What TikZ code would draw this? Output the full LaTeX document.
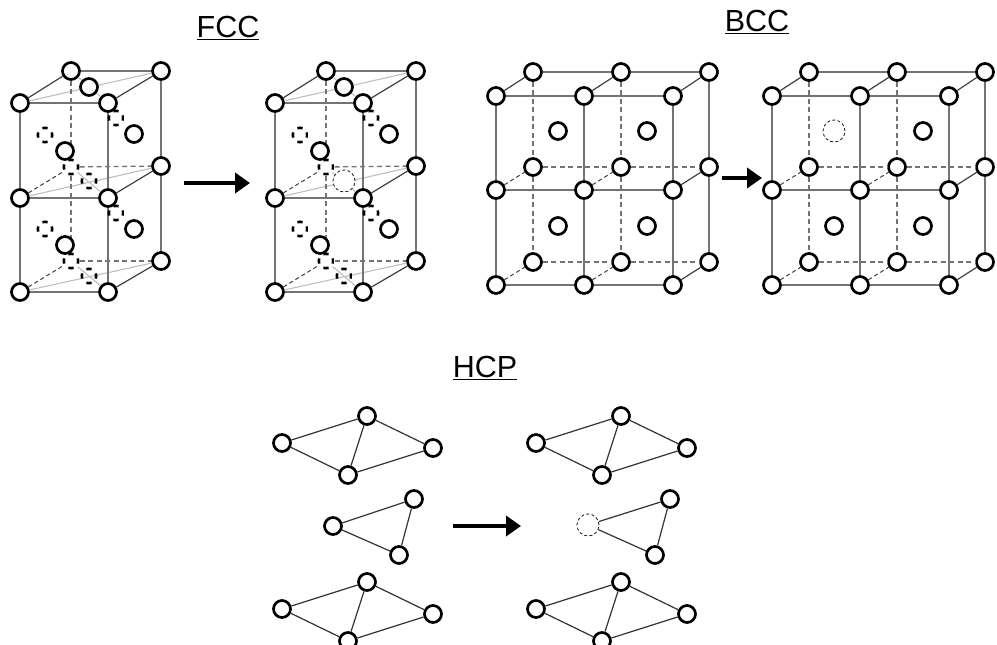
\documentclass[tikz,border=0pt]{standalone}
\usepackage{fontspec}
\setmainfont{Liberation Sans}
\usetikzlibrary{arrows.meta}
\definecolor{edgegray}{gray}{0.45}
\definecolor{lightgray2}{gray}{0.75}
\definecolor{dashgray}{gray}{0.45}
\tikzset{
  atom/.style={circle,draw=black,fill=white,line width=2.7pt,minimum size=17pt,inner sep=0pt},
  hidden/.style={circle,minimum size=17.4pt,inner sep=0pt,outer sep=0pt,
    path picture={\foreach \a in {0,90,180,270}{
      \draw[black,line width=2.6pt] (path picture bounding box.center) ++(\a-21:7.2pt) arc[start angle=\a-21,delta angle=42,radius=7.2pt];
    }}},
  vacancy/.style={circle,draw=black!90,fill=white,line width=0.8pt,minimum size=22pt,inner sep=0pt,dash pattern=on 3pt off 2.3pt},
  front/.style={draw=edgegray,line width=1.7pt},
  depth/.style={draw=black!75,line width=1.2pt},
  diag/.style={draw=lightgray2,line width=1.1pt},
  backv/.style={draw=dashgray,line width=1.3pt,dash pattern=on 5pt off 3.5pt},
  depthd/.style={draw=black!75,line width=1pt,dash pattern=on 4pt off 3pt},
  bond/.style={draw=black!80,line width=1.2pt},
  bigarrow/.style={-{Triangle[length=15pt,width=20pt]},line width=4.6pt,black},
  title/.style={font=\fontsize{30.5}{33}\selectfont,inner sep=0pt}
}
\newcommand{\fcccell}[2]{%
  \node[atom] (l1) at (20,103) {};
  \node[atom] (r1) at (108,103) {};
  \node[atom] (p1) at (71,71) {};
  \node[atom] (q1) at (161,71) {};
  \node[atom] (l2) at (20,198) {};
  \node[atom] (r2) at (108,198) {};
  \node[hidden] (p2) at (71,167) {};
  \node[atom] (q2) at (161,166) {};
  \node[atom] (l3) at (20,292) {};
  \node[atom] (r3) at (108,292) {};
  \node[hidden] (p3) at (71,261) {};
  \node[atom] (q3) at (161,261) {};
  \draw[diag] (l1) -- (q1);
  \draw[diag] (p1) -- (r1);
  \draw[diag] (l2) -- (q2);
  \draw[diag] (p2) -- (r2);
  \draw[diag] (l3) -- (q3);
  \draw[diag] (p3) -- (r3);
  \draw[front] (l1) -- (r1);
  \draw[front] (l2) -- (r2);
  \draw[front] (l3) -- (r3);
  \draw[front] (p1) -- (q1);
  \draw[front] (l1) -- (l2);
  \draw[front] (l2) -- (l3);
  \draw[front] (r1) -- (r2);
  \draw[front] (r2) -- (r3);
  \draw[front] (q1) -- (q2);
  \draw[front] (q2) -- (q3);
  \draw[depth] (l1) -- (p1);
  \draw[depth] (r1) -- (q1);
  \draw[depth] (r2) -- (q2);
  \draw[depth] (r3) -- (q3);
  \draw[backv] (p1) -- (p2);
  \draw[backv] (p2) -- (p3);
  \draw[backv] (p2) -- (q2);
  \draw[backv] (p3) -- (q3);
  \draw[depthd] (l2) -- (p2);
  \draw[depthd] (l3) -- (p3);
  \node[atom] (t) at (89,87) {};
  \node[atom] (s1) at (65,151) {};
  \node[atom] (s2) at (134,134) {};
  \node[atom] (s3) at (65,245) {};
  \node[atom] (s4) at (134,229) {};
  \node[hidden] (h1) at (45,135) {};
  \node[hidden] (h2) at (116,118) {};
  \node[hidden] (h3) at (45,229) {};
  \node[hidden] (h4) at (116,213) {};
  \node[hidden] (h5) at (89,276) {};
  \node[#1] (c) at (#2) {};
}
\newcommand{\bcccell}{%
  \foreach \i/\x in {1/496,2/584,3/673}{
    \foreach \j/\y in {1/96,2/190,3/285}{
      \node[atom] (f\i\j) at (\x,\y) {};
    }
  }
  \foreach \i/\x in {1/533,2/621,3/709}{
    \foreach \j/\y in {1/72,2/167,3/262}{
      \node[atom] (b\i\j) at (\x,\y) {};
    }
  }
  \foreach \i in {1,2,3}{
    \foreach \j in {1,2,3}{
      \ifnum\j=1
        \draw[depth] (f\i\j) -- (b\i\j);
      \else
        \ifnum\i=3
          \draw[depth] (f\i\j) -- (b\i\j);
        \else
          \draw[depthd] (f\i\j) -- (b\i\j);
        \fi
      \fi
    }
  }
  \foreach \i in {1,2,3}{
    \draw[front] (f\i1) -- (f\i2);
    \draw[front] (f\i2) -- (f\i3);
  }
  \foreach \j in {1,2,3}{
    \draw[front] (f1\j) -- (f2\j);
    \draw[front] (f2\j) -- (f3\j);
  }
  \draw[front] (b11) -- (b21);
  \draw[front] (b21) -- (b31);
  \draw[front] (b31) -- (b32);
  \draw[front] (b32) -- (b33);
  \draw[backv] (b11) -- (b12);
  \draw[backv] (b12) -- (b13);
  \draw[backv] (b21) -- (b22);
  \draw[backv] (b22) -- (b23);
  \draw[backv] (b12) -- (b22);
  \draw[backv] (b22) -- (b32);
  \draw[backv] (b13) -- (b23);
  \draw[backv] (b23) -- (b33);
  \node[atom] (c2) at (558,226) {};
  \node[atom] (c3) at (647,131) {};
  \node[atom] (c4) at (647,226) {};
}
\newcommand{\hcpdiamond}[1]{%
  \begin{scope}[yshift=#1]
    \node[atom] (w) at (282,443) {};
    \node[atom] (n) at (367,416) {};
    \node[atom] (e) at (433,448) {};
    \node[atom] (s) at (348,475) {};
    \draw[bond] (w) -- (n);
    \draw[bond] (n) -- (e);
    \draw[bond] (e) -- (s);
    \draw[bond] (s) -- (w);
    \draw[bond] (n) -- (s);
  \end{scope}
}
\begin{document}
\begin{tikzpicture}[x=1pt,y=-1pt]
  \useasboundingbox (0,0) rectangle (997,645);
  \clip (0,0) rectangle (997,645);
  \fill[white] (0,0) rectangle (997,645);

  \node[title] (ttlF) at (228,28) {\underline{FCC}};
  \node[title] (ttlB) at (757,22) {\underline{BCC}};
  \node[title] (ttlH) at (485,368) {\underline{HCP}};

  \begin{scope}[name prefix=fa-]
    \fcccell{hidden}{89,181}
  \end{scope}
  \begin{scope}[name prefix=fb-,xshift=255pt]
    \fcccell{vacancy}{89,181}
  \end{scope}

  \begin{scope}[name prefix=ba-]
    \bcccell
    \node[atom] (c1) at (558,131) {};
  \end{scope}
  \begin{scope}[name prefix=bb-,xshift=276pt]
    \bcccell
    \node[vacancy] (c1) at (558,131) {};
  \end{scope}

  \begin{scope}[name prefix=ha-]
    \begin{scope}[name prefix=ha-top-]\hcpdiamond{0pt}\end{scope}
    \begin{scope}[name prefix=ha-bot-]\hcpdiamond{-166pt}\end{scope}
    \node[atom] (mw) at (333,526) {};
    \node[atom] (mn) at (414,499) {};
    \node[atom] (ms) at (399,555) {};
    \draw[bond] (mw) -- (mn);
    \draw[bond] (mn) -- (ms);
    \draw[bond] (ms) -- (mw);
  \end{scope}
  \begin{scope}[name prefix=hb-,xshift=254pt]
    \begin{scope}[name prefix=hb-top-]\hcpdiamond{0pt}\end{scope}
    \begin{scope}[name prefix=hb-bot-]\hcpdiamond{-166pt}\end{scope}
    \node[vacancy] (mw) at (334,525) {};
    \node[atom] (mn) at (416,499) {};
    \node[atom] (ms) at (401,555) {};
    \draw[bond] (mw) -- (mn);
    \draw[bond] (mn) -- (ms);
    \draw[bond] (ms) -- (mw);
  \end{scope}

  \coordinate (arF0) at (184,183);
  \coordinate (arF1) at (250,183);
  \coordinate (arB0) at (722,178);
  \coordinate (arB1) at (762,178);
  \coordinate (arH0) at (453,526);
  \coordinate (arH1) at (521,526);
  \draw[bigarrow] (arF0) -- (arF1);
  \draw[bigarrow] (arB0) -- (arB1);
  \draw[bigarrow] (arH0) -- (arH1);
\end{tikzpicture}
\end{document}
